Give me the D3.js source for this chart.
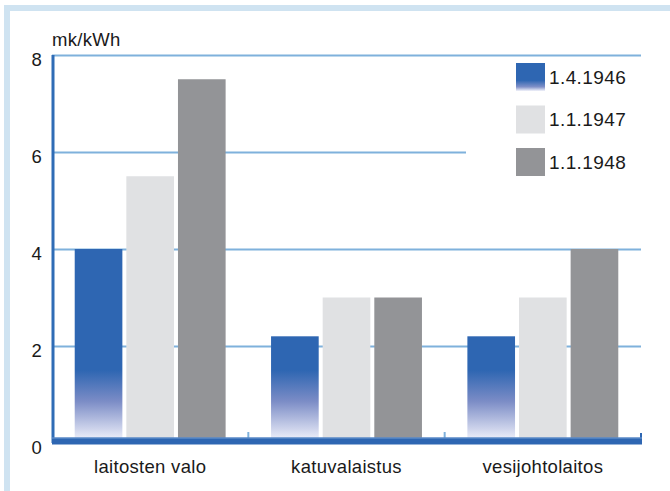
<!DOCTYPE html>
<html>
<head>
<meta charset="utf-8">
<script src="https://cdn.jsdelivr.net/npm/d3@7/dist/d3.min.js"></script>
<style>
  html, body { margin: 0; padding: 0; background: #fff; }
  svg { display: block; }
  text { font-family: "Liberation Sans", Arial, Helvetica, sans-serif; fill: #1a1a1a; letter-spacing: 0.3px; }
</style>
</head>
<body>
<svg id="chart" width="670" height="491"></svg>
<script>
// Electricity prices, mk/kWh, by customer group and date
const categories = ["laitosten valo", "katuvalaistus", "vesijohtolaitos"];
const seriesLabels = ["1.4.1946", "1.1.1947", "1.1.1948"];
const values1946 = [4, 2.2, 2.2];
const values1947 = [5.5, 3, 3];
const values1948 = [7.5, 3, 4];
const yTicks = [0, 2, 4, 6, 8];
const unitLabel = "mk/kWh";

const seriesValues = [values1946, values1947, values1948];
const seriesFills = ["url(#blueFade)", "#e0e1e3", "#939497"];

const svg = d3.select("#chart");
const W = 670, H = 491;
const plotLeft = 52, plotRight = 641, plotTop = 55, zeroY = 443;
const fontSize = 18.5;

// light blue frame along the top and left edges
svg.append("rect").attr("x", 4).attr("y", 5).attr("width", W - 4).attr("height", 6).attr("fill", "#cfe3f1");
svg.append("rect").attr("x", 4).attr("y", 5).attr("width", 6).attr("height", H - 5).attr("fill", "#cfe3f1");

const defs = svg.append("defs");

const x0 = d3.scaleBand().domain(categories).range([plotLeft, plotRight]);
const x1 = d3.scaleBand().domain(seriesLabels).range([0, x0.bandwidth()])
  .paddingInner(0.077).paddingOuter(0.44);
const y = d3.scaleLinear().domain([0, 8]).range([zeroY, plotTop]);

// blue bars fade to white below the 1.5 level
const g1 = defs.append("linearGradient").attr("id", "blueFade")
  .attr("gradientUnits", "userSpaceOnUse")
  .attr("x1", 0).attr("x2", 0).attr("y1", y(1.5)).attr("y2", y(0) - 4);
g1.append("stop").attr("offset", 0).attr("stop-color", "#2e66b2");
g1.append("stop").attr("offset", 0.45).attr("stop-color", "#7b8cc6");
g1.append("stop").attr("offset", 1).attr("stop-color", "#eceef9");

const g2 = defs.append("linearGradient").attr("id", "blueFadeKey")
  .attr("x1", 0).attr("x2", 0).attr("y1", 0).attr("y2", 1);
g2.append("stop").attr("offset", 0).attr("stop-color", "#2e66b2");
g2.append("stop").attr("offset", 0.62).attr("stop-color", "#2e66b2");
g2.append("stop").attr("offset", 0.85).attr("stop-color", "#8090c8");
g2.append("stop").attr("offset", 1).attr("stop-color", "#f2f3fb");

// gridlines and value labels
const yAxis = svg.append("g")
  .attr("transform", `translate(${plotLeft},0)`)
  .call(d3.axisLeft(y).tickValues(yTicks).tickFormat(d3.format("d"))
    .tickSize(-(plotRight - plotLeft)).tickPadding(10));
yAxis.select(".domain").remove();
yAxis.selectAll(".tick line")
  .attr("stroke", "#7fb1dc").attr("stroke-width", 2)
  .attr("display", d => d === 0 ? "none" : null);
yAxis.selectAll(".tick text")
  .attr("font-size", fontSize).attr("dy", "0.55em").attr("fill", "#1a1a1a");

svg.append("text").attr("x", plotLeft).attr("y", 46)
  .attr("font-size", fontSize).text(unitLabel);

// legend background hides gridlines behind it
svg.append("rect").attr("x", 466).attr("y", 58).attr("width", plotRight - 466).attr("height", 140).attr("fill", "#fff");

// bars
const rows = categories.map((c, i) => ({ cat: c, vals: seriesLabels.map((s, j) => ({ s, j, v: seriesValues[j][i] })) }));
const grp = svg.append("g").selectAll("g").data(rows).join("g")
  .attr("transform", d => `translate(${x0(d.cat)},0)`);
grp.selectAll("rect").data(d => d.vals).join("rect")
  .attr("x", d => x1(d.s))
  .attr("y", d => y(d.v))
  .attr("width", x1.bandwidth())
  .attr("height", d => y(0) - y(d.v))
  .attr("fill", d => seriesFills[d.j]);

// left axis line
svg.append("line").attr("x1", plotLeft + 1).attr("x2", plotLeft + 1).attr("y1", plotTop).attr("y2", zeroY)
  .attr("stroke", "#2f6cb6").attr("stroke-width", 3);

// separators between groups
const seps = categories.slice(1).map(c => x0(c));
svg.append("g").selectAll("line").data(seps).join("line")
  .attr("x1", d => d).attr("x2", d => d).attr("y1", 432).attr("y2", 438)
  .attr("stroke", "#7fb1dc").attr("stroke-width", 2);
svg.append("line").attr("x1", plotRight).attr("x2", plotRight).attr("y1", 433).attr("y2", 440)
  .attr("stroke", "#2e66b2").attr("stroke-width", 2);

// thick baseline
svg.append("rect").attr("x", plotLeft).attr("y", 437.5).attr("width", plotRight - plotLeft + 1).attr("height", 7)
  .attr("fill", "#2e66b2");
svg.append("line").attr("x1", plotLeft).attr("x2", plotRight + 1).attr("y1", 438).attr("y2", 438)
  .attr("stroke", "#6f9bd2").attr("stroke-width", 1);

// category labels
const xAxis = svg.append("g").attr("transform", `translate(0,${zeroY})`)
  .call(d3.axisBottom(x0).tickSize(0).tickPadding(17));
xAxis.select(".domain").remove();
xAxis.selectAll(".tick text").attr("font-size", fontSize).attr("fill", "#1a1a1a");

// legend
const legendFills = ["url(#blueFadeKey)", "#e0e1e3", "#939497"];
const lg = svg.append("g").selectAll("g").data(seriesLabels).join("g")
  .attr("transform", (d, i) => `translate(516,${63 + i * 42.5})`);
lg.append("rect").attr("width", 29).attr("height", 28).attr("fill", (d, i) => legendFills[i]);
lg.append("text").attr("x", 33).attr("y", 20.5).attr("font-size", 19)
  .style("letter-spacing", "0.4px").text(d => d);
</script>
</body>
</html>
